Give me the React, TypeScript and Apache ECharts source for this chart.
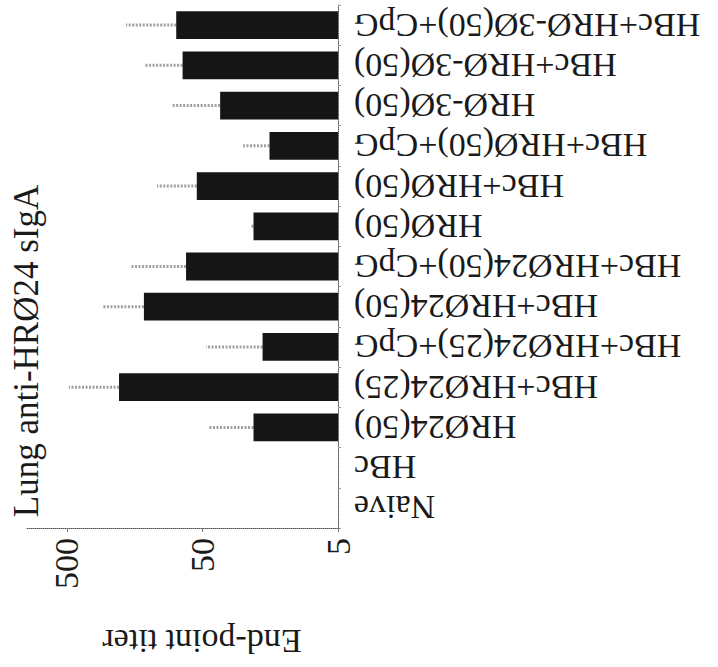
import React, { useEffect, useRef } from 'react';
import * as echarts from 'echarts';

// Categories, bottom (first) to top (last)
const categories = [
  'Naive',
  'HBc',
  'HRØ24(50)',
  'HBc+HRØ24(25)',
  'HBc+HRØ24(25)+CpG',
  'HBc+HRØ24(50)',
  'HBc+HRØ24(50)+CpG',
  'HRØ(50)',
  'HBc+HRØ(50)',
  'HBc+HRØ(50)+CpG',
  'HRØ-3Ø(50)',
  'HBc+HRØ-3Ø(50)',
  'HBc+HRØ-3Ø(50)+CpG',
];

// Mean end-point titers (5 = detection limit, no bar)
const titers = [5, 5, 21, 206, 18, 135, 66, 21, 55, 16, 37, 70, 78];

// Upper end of the error bars (mean + SD); null = no error bar
const errorUpper = [null, null, 45, 483, 47, 270, 168, 22, 108, 25, 85, 135, 183];

const tickValues = [5, 50, 500];

const titleText = 'Lung anti-HRØ24 sIgA';
const axisNameText = 'End-point titer';

export default function App() {
  const ref = useRef<HTMLDivElement>(null);

  useEffect(() => {
    if (!ref.current) return;
    const chart = echarts.init(ref.current, null, { renderer: 'svg' });
    const font = '"Liberation Serif", "Times New Roman", serif';

    const errData: any[] = [];
    errorUpper.forEach((u, i) => {
      if (u != null) errData.push([u, i, titers[i]]);
    });

    chart.setOption({
      animation: false,
      backgroundColor: '#ffffff',
      grid: {
        left: 26,
        right: 380,
        top: 5,
        bottom: 139,
        containLabel: false,
        outerBoundsMode: 'none',
      },
      xAxis: {
        type: 'log',
        logBase: 10,
        min: 5,
        max: 1000,
        inverse: true,
        startValue: 5,
        axisLine: { show: true, lineStyle: { color: '#555', type: 'dotted', width: 1 } },
        axisTick: {
          show: true,
          length: 4,
          customValues: tickValues,
          lineStyle: { color: '#777', width: 1 },
        },
        minorTick: { show: false },
        axisLabel: {
          customValues: tickValues,
          rotate: 90,
          margin: 10,
          fontSize: 34,
          fontFamily: font,
          color: '#1a1a1a',
        },
        splitLine: { show: false },
      },
      yAxis: {
        type: 'category',
        data: categories,
        position: 'right',
        axisLine: { show: true, lineStyle: { color: '#555', type: 'dotted', width: 1 } },
        axisTick: { show: true, length: 3, interval: 0, lineStyle: { color: '#999', width: 1 } },
        axisLabel: {
          interval: 0,
          rotate: 180,
          margin: 16,
          fontSize: 34,
          fontFamily: font,
          color: '#1a1a1a',
        },
        splitLine: { show: false },
      },
      series: [
        {
          type: 'bar',
          data: titers,
          barCategoryGap: '31%',
          clip: true,
          itemStyle: { color: '#151515' },
        },
        {
          type: 'custom',
          data: errData,
          encode: { x: [0, 2], y: 1 },
          renderItem: (params: any, api: any) => {
            const hi = api.coord([api.value(0), api.value(1)]);
            const lo = api.coord([api.value(2), api.value(1)]);
            return {
              type: 'line',
              shape: { x1: lo[0], y1: lo[1], x2: hi[0], y2: hi[1] },
              style: { stroke: '#a0a0a0', lineWidth: 3, lineDash: [2, 1.5] },
            };
          },
          z: 1,
        },
      ],
      graphic: [
        {
          type: 'text',
          x: 26,
          y: 351,
          rotation: Math.PI / 2,
          style: {
            text: titleText,
            font: `35px ${font}`,
            fill: '#1a1a1a',
            textAlign: 'center',
            textVerticalAlign: 'middle',
          },
        },
        {
          type: 'text',
          x: 202,
          y: 641,
          rotation: Math.PI,
          style: {
            text: axisNameText,
            font: `34px ${font}`,
            fill: '#1a1a1a',
            textAlign: 'center',
            textVerticalAlign: 'middle',
          },
        },
      ],
    });

    return () => chart.dispose();
  }, []);

  return (
    <div
      ref={ref}
      style={{ position: 'fixed', left: 0, top: 0, width: 718, height: 667, background: '#fff' }}
    />
  );
}
